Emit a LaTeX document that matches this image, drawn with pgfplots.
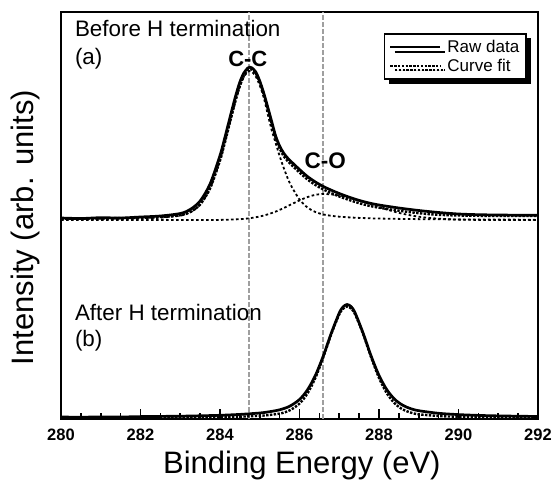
\documentclass[border=0pt]{standalone}
\usepackage{fontspec}
\setmainfont{Liberation Sans}
\usepackage{pgfplots}
\pgfplotsset{compat=1.18}
\usetikzlibrary{shadows}

\begin{document}
\begin{tikzpicture}
\begin{axis}[
  name=ax,
  scale only axis,
  width=477pt, height=407pt,
  xmin=280, xmax=292, ymin=0, ymax=407,
  axis line style={line width=2.2pt},
  ytick=\empty,
  xtick={280,282,284,286,288,290,292},
  xticklabels={280,282,284,286,288,290,292},
  minor x tick num=3,
  xtick pos=lower,
  tick align=inside,
  major tick length=10pt, minor tick length=6pt,
  every tick/.style={black, line width=1.6pt},
  xticklabel style={font=\bfseries\fontsize{16.5}{16.5}\selectfont, anchor=base, yshift=-21pt, inner sep=0pt},
  xlabel={Binding Energy (eV)},
  xlabel style={font=\fontsize{31}{31}\selectfont, at={(axis description cs:0.505,-0.1327)}, anchor=base, inner sep=0pt},
  ylabel={Intensity (arb. units)},
  ylabel style={font=\fontsize{31}{31}\selectfont, at={(axis description cs:-0.044,0.4705)}, anchor=south, inner sep=0pt},
  legend style={at={(axis description cs:0.977,0.948)}, anchor=north east, draw=black, line width=1.6pt, fill=white,
    drop shadow={shadow xshift=4.5pt, shadow yshift=-4.5pt, fill=black, opacity=1},
    font=\fontsize{17}{17}\selectfont, inner xsep=5pt, inner ysep=5pt, row sep=1.5pt,
    nodes={inner xsep=2pt, inner ysep=1.5pt}},
  legend cell align=left,
  legend image code/.code={\draw[#1] (0pt,0pt) -- (50pt,0pt); \path (0pt,-2pt) (54pt,2pt);},
]
\pgfplotsset{
  rawstyle/.style={black, line width=2.7pt, line join=round},
  fitstyle/.style={black, line width=2.4pt, dash pattern=on 2.4pt off 1.4pt},
  compstyle/.style={black, line width=1.8pt, dash pattern=on 2.6pt off 2.4pt},
}
\addlegendimage{black, line width=2pt}
\addlegendentry{Raw data}
\addlegendimage{black, line width=2pt, dash pattern=on 2.4pt off 1.4pt}
\addlegendentry{Curve fit}

% reference lines
\addplot[forget plot, gray!75, line width=1.1pt, dash pattern=on 4.5pt off 2.5pt] coordinates {(284.73,0) (284.73,407)};
\addplot[forget plot, gray!75, line width=1.1pt, dash pattern=on 4.5pt off 2.5pt] coordinates {(286.59,0) (286.59,407)};

% (a) C-C component
\addplot[forget plot, compstyle, smooth] table {
x y
280 199.6
280.5 199.7
281 199.9
281.5 200.2
282 200.6
282.5 201.3
283 203.4
283.25 206.6
283.5 214.4
283.75 230.7
284 258.8
284.1 273.2
284.2 288.7
284.3 304.4
284.4 319.5
284.5 332.5
284.6 342.1
284.7 347.3
284.75 348.0
284.8 347.4
284.9 342.5
285.0 333.5
285.1 321.5
285.2 305.0
285.3 289.0
285.4 276.0
285.5 263.0
285.6 251.5
285.7 241.0
285.8 232.5
286.0 219.5
286.2 211.5
286.4 207.0
286.6 204.5
286.8 203.2
287.0 202.3
287.25 201.6
287.5 201.1
287.75 200.7
288 200.45
288.5 200.1
289 199.85
289.5 199.7
290 199.55
291 199.4
292 199.3
};
% (a) C-O component
\addplot[forget plot, compstyle, smooth] table {
x y
280 199.0
282 199.0
283.5 199.0
284 199.1
284.5 199.8
284.75 200.8
285.0 202.5
285.2 204.6
285.4 207.4
285.6 210.9
285.8 214.8
286.0 218.6
286.2 221.9
286.4 224.2
286.6 225.0
286.8 224.6
287.0 223.5
287.25 221.3
287.5 218.4
287.75 215.2
288 211.9
288.5 206.1
289 202.3
289.5 200.3
290 199.4
290.5 199.1
291 199.0
292 199.0
};
% (a) curve fit (sum)
\addplot[forget plot, fitstyle, smooth] table {
x y
280 200.2
280.5 200.4
281 200.6
281.5 200.9
282 201.2
282.5 202.0
283 203.8
283.25 207.0
283.5 214.5
283.75 230.5
284 258.5
284.1 273.0
284.2 288.5
284.3 304.5
284.4 319.8
284.5 333.0
284.6 343.2
284.7 349.0
284.75 350.0
284.8 349.6
284.9 345.5
285.0 336.8
285.1 324.6
285.2 310.5
285.3 295.5
285.4 281.0
285.5 270.5
285.6 263.0
285.7 258.0
285.8 254.0
286.0 246.5
286.2 239.5
286.4 234.0
286.6 229.5
286.8 225.8
287.0 222.5
287.25 219.0
287.5 215.8
287.75 213.2
288 211.3
288.5 208.3
289 205.8
289.5 204.2
290 203.5
290.5 203.2
291 203.1
291.5 203.0
292 203.0
};
% (a) raw data
\addplot[forget plot, rawstyle, smooth] table {
x y
280 201.0
280.5 200.5
281 201.3
281.5 201.0
282 202.0
282.5 203.0
283 205.5
283.25 209.5
283.5 218.0
283.75 235.0
284 263.5
284.1 278.0
284.2 293.5
284.3 309.0
284.4 324.0
284.5 337.0
284.6 346.0
284.7 351.0
284.75 351.8
284.8 351.2
284.9 347.0
285.0 338.0
285.1 326.0
285.2 312.0
285.3 297.5
285.4 283.0
285.5 273.0
285.6 266.0
285.7 261.0
285.8 257.0
286.0 249.5
286.2 242.5
286.4 237.0
286.6 232.5
286.8 228.8
287.0 225.5
287.25 221.8
287.5 218.6
287.75 216.0
288 214.0
288.5 211.0
289 208.5
289.5 206.5
290 205.0
290.5 204.3
291 204.0
291.5 203.8
292 203.7
};

% (b) curve fit
\addplot[forget plot, fitstyle, smooth] table {
x y
280 0.8
282 1.0
284 1.8
285 3.2
285.5 5.4
285.75 8.6
286 15.4
286.2 25.5
286.4 41.1
286.6 61.9
286.8 85.0
287.0 104.6
287.1 110.4
287.2 112.5
287.3 110.4
287.4 104.6
287.6 85.0
287.8 61.9
288.0 41.1
288.2 25.5
288.4 15.4
288.6 9.5
288.8 6.4
289 4.7
289.5 3.0
290 2.2
291 1.5
292 1.1
};
% (b) raw data
\addplot[forget plot, rawstyle, smooth] table {
x y
280 2.0
280.5 1.8
281 2.1
281.5 2.0
282 2.4
282.5 2.6
283 2.8
283.5 3.2
284 3.7
284.5 4.6
285 6.0
285.25 7.3
285.5 9.2
285.75 12.7
286 19.5
286.2 29.1
286.4 43.6
286.6 63.2
286.8 85.9
287.0 106.0
287.1 112.3
287.2 114.5
287.3 112.3
287.4 106.0
287.6 85.9
287.8 63.2
288.0 43.6
288.2 29.1
288.4 19.5
288.6 13.7
288.8 10.3
289 8.3
289.5 5.7
290 4.4
290.5 3.6
291 3.1
291.5 2.8
292 2.5
};

% texts
\node[anchor=base west, font=\fontsize{22.4}{22.4}\selectfont, inner sep=0pt] at (axis description cs:0.029,0.9386) {Before H termination};
\node[anchor=base west, font=\fontsize{22.4}{22.4}\selectfont, inner sep=0pt] at (axis description cs:0.029,0.8700) {(a)};
\node[anchor=base west, font=\fontsize{22.4}{22.4}\selectfont, inner sep=0pt] at (axis description cs:0.029,0.2415) {After H termination};
\node[anchor=base west, font=\fontsize{22.4}{22.4}\selectfont, inner sep=0pt] at (axis description cs:0.029,0.1790) {(b)};
\node[anchor=base, font=\bfseries\fontsize{22}{22}\selectfont, inner sep=0pt] at (axis cs:284.70,352.3) {C-C};
\node[anchor=base, font=\bfseries\fontsize{22.5}{22.5}\selectfont, inner sep=0pt] at (axis cs:286.65,250.7) {C-O};
\end{axis}
\pgfresetboundingbox
\path ([shift={(-61pt,-62pt)}]ax.south west) rectangle ([shift={(18pt,12pt)}]ax.north east);
\end{tikzpicture}
\end{document}
